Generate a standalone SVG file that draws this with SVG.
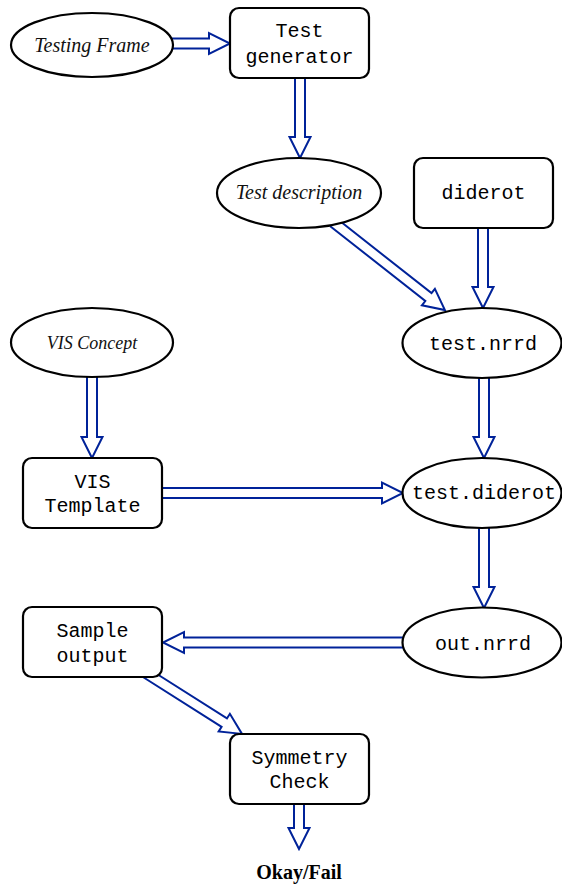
<svg xmlns="http://www.w3.org/2000/svg" width="562" height="888" viewBox="0 0 562 888">
  <style>
    .box { fill: #fff; stroke: #000; stroke-width: 2.2; }
    .oval { fill: #fff; stroke: #000; stroke-width: 2.2; }
    .arrow { fill: none; stroke: #002299; stroke-width: 2; stroke-linejoin: miter; }
    .mono { font-family: "Liberation Mono", "Courier New", monospace; font-size: 20px; fill: #000; text-anchor: middle; }
    .ital { font-family: "Liberation Serif", "Times New Roman", serif; font-style: italic; font-size: 20px; fill: #111; text-anchor: middle; }
    .bold { font-family: "Liberation Serif", "Times New Roman", serif; font-weight: bold; font-size: 20px; fill: #000; text-anchor: middle; }
  </style>
  <rect width="562" height="888" fill="#fff"/>

  <!-- hollow block-arrow connectors (drawn under the nodes) -->
  <g id="connectors">
    <path class="arrow" d="M165,38.5 H209 V33 L230,43.5 L209,54 V48.5 H165"/>
    <path class="arrow" d="M295,70 V137 H289.5 L300,158 L310.5,137 H305 V70"/>
    <path class="arrow" d="M478,220 V287 H472.5 L483,308 L493.5,287 H488 V220"/>
    <path class="arrow" transform="translate(333,222) rotate(38.2)" d="M0,-5 H121.4 V-10.5 L142.4,0 L121.4,10.5 V5 H0"/>
    <path class="arrow" d="M479,370 V437 H473.5 L484,458 L494.5,437 H489 V370"/>
    <path class="arrow" d="M87,370 V437 H81.5 L92,458 L102.5,437 H97 V370"/>
    <path class="arrow" d="M155,488 H382 V482.5 L403,493 L382,503.5 V498 H155"/>
    <path class="arrow" d="M479,520 V587 H473.5 L484,608 L494.5,587 H489 V520"/>
    <path class="arrow" d="M410,637.5 H184 V632 L163,642.5 L184,653 V647.5 H410"/>
    <path class="arrow" transform="translate(146,673) rotate(32.4)" d="M0,-5 H92.7 V-10.5 L113.7,0 L92.7,10.5 V5 H0"/>
    <path class="arrow" d="M294,796 V828 H288.5 L299,849 L309.5,828 H304 V796"/>
  </g>

  <g id="testing-frame">
    <ellipse class="oval" cx="92" cy="45" rx="81" ry="32"/>
    <text class="ital" x="92" y="52">Testing Frame</text>
  </g>
  <g id="test-generator">
    <rect class="box" x="230" y="8" width="139" height="70" rx="9"/>
    <text class="mono" x="299.5" y="37">Test</text>
    <text class="mono" x="299.5" y="63">generator</text>
  </g>
  <g id="test-description">
    <ellipse class="oval" cx="299" cy="193" rx="82" ry="35"/>
    <text class="ital" x="299" y="199">Test description</text>
  </g>
  <g id="diderot">
    <rect class="box" x="414" y="158" width="139" height="70" rx="9"/>
    <text class="mono" x="483.5" y="199">diderot</text>
  </g>
  <g id="vis-concept">
    <ellipse class="oval" cx="92" cy="342.5" rx="81" ry="34.5"/>
    <text class="ital" x="92" y="349" style="font-size:18px">VIS Concept</text>
  </g>
  <g id="test-nrrd">
    <ellipse class="oval" cx="482" cy="343" rx="79.5" ry="35"/>
    <text class="mono" x="483" y="350">test.nrrd</text>
  </g>
  <g id="vis-template">
    <rect class="box" x="23" y="458" width="139" height="70" rx="9"/>
    <text class="mono" x="92.5" y="488">VIS</text>
    <text class="mono" x="92.5" y="512">Template</text>
  </g>
  <g id="test-diderot">
    <ellipse class="oval" cx="482" cy="493" rx="79.5" ry="35"/>
    <text class="mono" x="484" y="499">test.diderot</text>
  </g>
  <g id="sample-output">
    <rect class="box" x="23" y="607" width="139" height="70" rx="9"/>
    <text class="mono" x="92.5" y="637">Sample</text>
    <text class="mono" x="92.5" y="662">output</text>
  </g>
  <g id="out-nrrd">
    <ellipse class="oval" cx="482" cy="642.5" rx="79.5" ry="35"/>
    <text class="mono" x="483" y="650">out.nrrd</text>
  </g>
  <g id="symmetry-check">
    <rect class="box" x="230" y="734" width="139" height="70" rx="9"/>
    <text class="mono" x="299.5" y="764">Symmetry</text>
    <text class="mono" x="299.5" y="788">Check</text>
  </g>
  <g id="okay-fail">
    <text class="bold" x="299" y="879">Okay/Fail</text>
  </g>
</svg>
